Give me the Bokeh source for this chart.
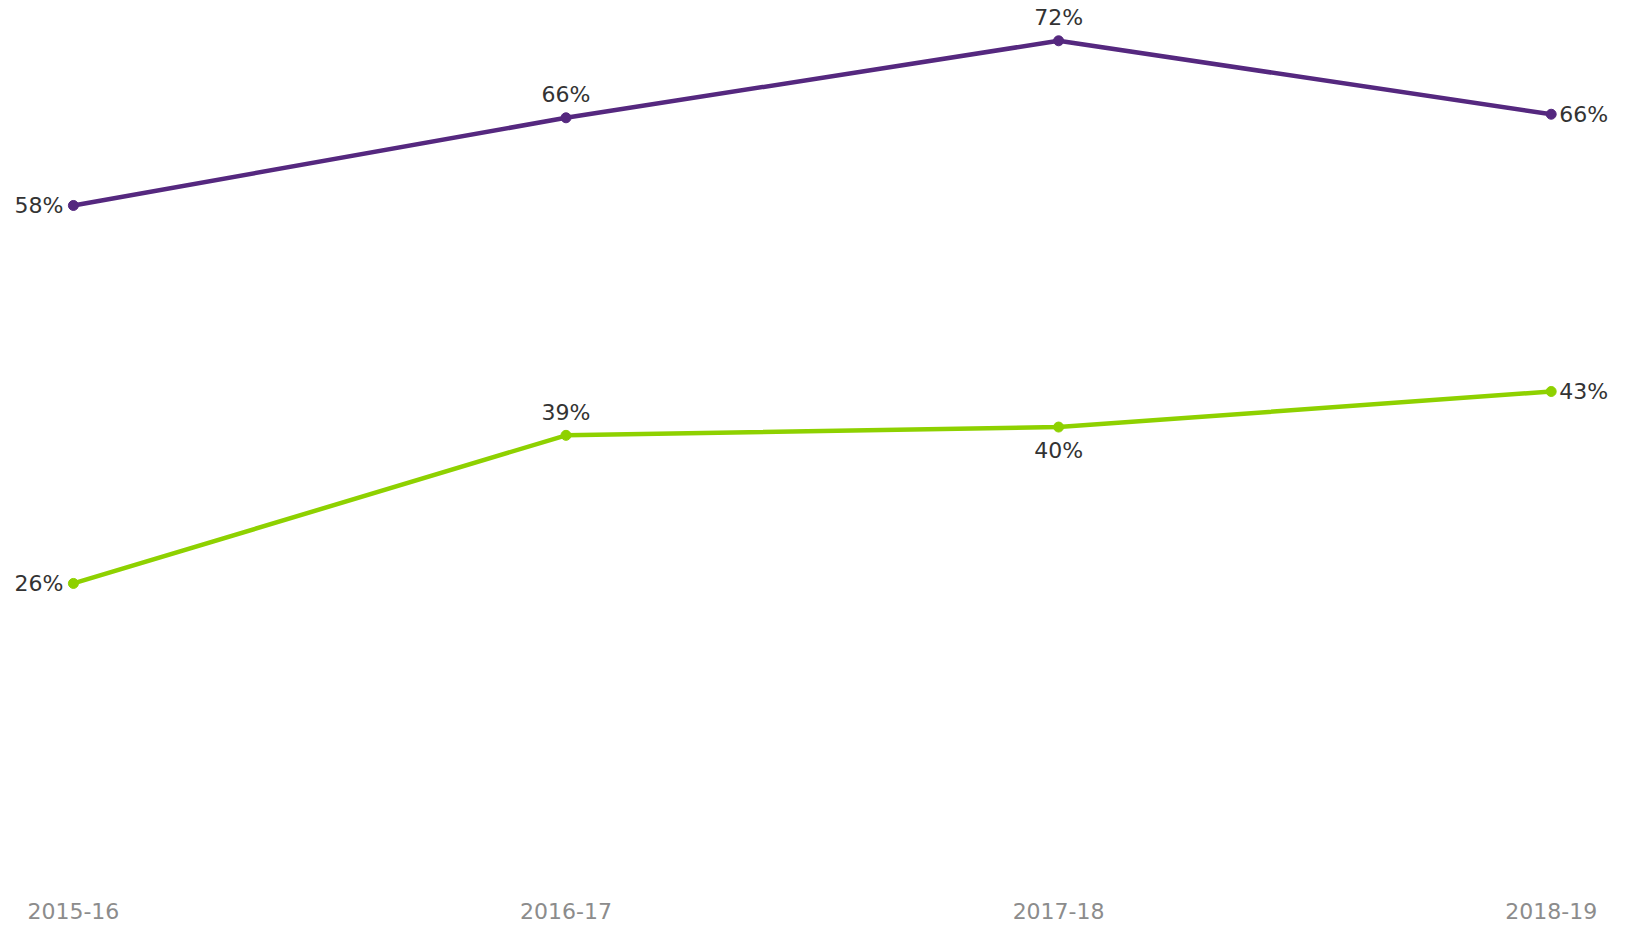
from bokeh.plotting import figure
from bokeh.models import ColumnDataSource, Range1d, FixedTicker
from bokeh.core.properties import value
from bokeh.embed import file_html
from bokeh.resources import INLINE

# ---- data ----
years = ["2015-16", "2016-17", "2017-18", "2018-19"]
purple_values = [57.9, 65.3, 71.8, 65.6]
purple_labels = ["58%", "66%", "72%", "66%"]
green_values = [26.0, 38.5, 39.2, 42.2]
green_labels = ["26%", "39%", "40%", "43%"]

# label placement (style)
purple_place = ["left", "above", "above", "right"]
green_place = ["left", "above", "below", "right"]

PURPLE = "#55287f"
GREEN = "#8ed100"
FONT = "DejaVu Sans"

x_idx = list(range(len(years)))

p = figure(
    width=1630, height=931,
    x_range=Range1d(-0.1480, 3.1610),
    y_range=Range1d(0, 75.2),
    output_backend="svg", toolbar_location=None,
    min_border_left=0, min_border_right=0, min_border_top=0, min_border_bottom=40,
)
p.outline_line_color = None
p.grid.visible = False
p.yaxis.visible = False
p.background_fill_color = "white"
p.border_fill_color = "white"

xa = p.xaxis[0]
xa.ticker = FixedTicker(ticks=x_idx)
xa.major_label_overrides = {i: y for i, y in enumerate(years)}
xa.axis_line_color = None
xa.major_tick_line_color = None
xa.minor_tick_line_color = None
xa.major_tick_out = 0
xa.major_tick_in = 0
xa.major_label_standoff = 11
xa.major_label_text_font = FONT
xa.major_label_text_font_size = "22px"
xa.major_label_text_color = "#8c8c8c"


def offsets(place):
    xo, yo, al, bl = [], [], [], []
    for pl in place:
        if pl == "left":
            xo.append(-10); yo.append(0); al.append("right"); bl.append("middle")
        elif pl == "right":
            xo.append(8); yo.append(0); al.append("left"); bl.append("middle")
        elif pl == "above":
            xo.append(0); yo.append(-23); al.append("center"); bl.append("middle")
        else:
            xo.append(0); yo.append(23); al.append("center"); bl.append("middle")
    return xo, yo, al, bl


for vals, labs, place, col in [
    (purple_values, purple_labels, purple_place, PURPLE),
    (green_values, green_labels, green_place, GREEN),
]:
    xo, yo, al, bl = offsets(place)
    src = ColumnDataSource(dict(x=x_idx, y=vals, t=labs, xo=xo, yo=yo, al=al, bl=bl))
    p.line("x", "y", source=src, line_color=col, line_width=4.5)
    p.scatter("x", "y", source=src, size=10, fill_color=col, line_color=col)
    p.text("x", "y", text="t", source=src, x_offset="xo", y_offset="yo",
           text_align="al", text_baseline="bl",
           text_font=value(FONT), text_font_size="22px", text_color="#333333")

open("out.html", "w").write(file_html(p, INLINE))
